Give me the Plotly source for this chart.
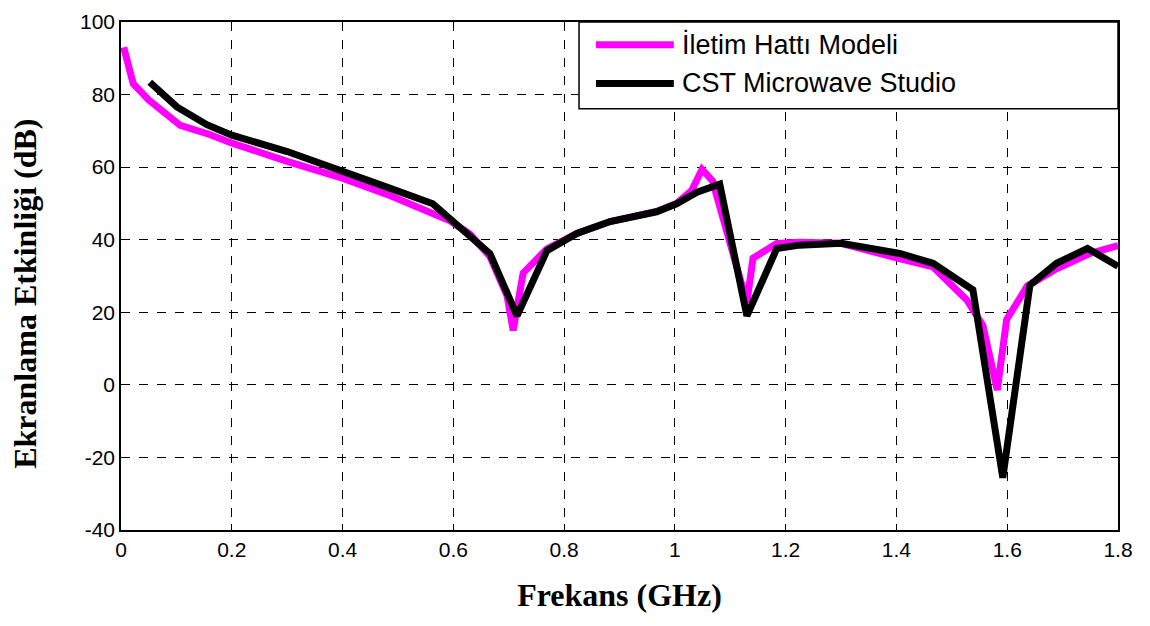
import plotly.graph_objects as go

# İletim Hattı Modeli (magenta)
tl_x = [0.005, 0.022, 0.05, 0.083, 0.107, 0.16, 0.197, 0.3, 0.395, 0.48, 0.56, 0.594, 0.63, 0.666, 0.697, 0.708, 0.726, 0.769, 0.823, 0.883, 0.967, 1.003, 1.03, 1.049, 1.068, 1.13, 1.141, 1.184, 1.225, 1.3, 1.4, 1.466, 1.527, 1.556, 1.582, 1.599, 1.636, 1.689, 1.749, 1.8]
tl_y = [93, 83, 78.5, 74.4, 71.5, 69, 66.8, 61.6, 57.2, 52.5, 47.5, 45.2, 41.5, 35.4, 24.5, 15, 30.8, 37.5, 41.7, 45, 47.8, 50, 53.5, 59.4, 56.2, 22.6, 34.9, 39, 39.3, 39, 35, 32.5, 23.4, 16.4, -1.4, 18, 27.2, 32, 36.2, 38.4]

# CST Microwave Studio (black)
cst_x = [0.052, 0.101, 0.155, 0.2, 0.3, 0.395, 0.48, 0.563, 0.6, 0.666, 0.715, 0.769, 0.823, 0.883, 0.967, 1.003, 1.04, 1.081, 1.13, 1.184, 1.225, 1.3, 1.406, 1.466, 1.538, 1.592, 1.641, 1.689, 1.745, 1.8]
cst_y = [83.4, 76.6, 71.7, 68.8, 64.3, 58.9, 54.5, 49.9, 45.2, 36.2, 19, 37, 41.7, 45, 47.7, 49.9, 53.1, 55.3, 19, 37.6, 38.5, 39, 36.2, 33.5, 26.2, -25.6, 27.5, 33.5, 37.6, 32.7]

x_ticks = [0, 0.2, 0.4, 0.6, 0.8, 1, 1.2, 1.4, 1.6, 1.8]
x_ticklabels = ["0", "0.2", "0.4", "0.6", "0.8", "1", "1.2", "1.4", "1.6", "1.8"]
y_ticks = [-40, -20, 0, 20, 40, 60, 80, 100]
y_ticklabels = ["-40", "-20", "0", "20", "40", "60", "80", "100"]

series_names = ["İletim Hattı Modeli", "CST Microwave Studio"]
series_colors = ["#FF00FF", "#000000"]

fig = go.Figure()
fig.add_trace(go.Scatter(x=tl_x, y=tl_y, mode="lines", name=series_names[0],
                         line=dict(color=series_colors[0], width=7), showlegend=False))
fig.add_trace(go.Scatter(x=cst_x, y=cst_y, mode="lines", name=series_names[1],
                         line=dict(color=series_colors[1], width=7), showlegend=False))

tick_font = dict(family="Liberation Sans Narrow, Arial Narrow, Liberation Sans, sans-serif", size=21, color="#000")
title_font = dict(family="Liberation Serif, Times New Roman, serif", size=32, color="#000")
fig.update_xaxes(range=[0, 1.8], tickvals=x_ticks, ticktext=x_ticklabels, automargin=False,
                 ticklabeloverflow="allow",
                 showgrid=True, gridcolor="#000", griddash="dash", gridwidth=1,
                 showline=True, linecolor="#000", linewidth=1.5, mirror=True,
                 ticks="inside", ticklen=6, tickcolor="#000", tickfont=tick_font,
                 zeroline=False,
                 title=dict(text="<b>Frekans (GHz)</b>", standoff=24, font=title_font))
fig.update_yaxes(range=[-40, 100], tickvals=y_ticks, ticktext=y_ticklabels, automargin=False,
                 ticklabeloverflow="allow",
                 showgrid=True, gridcolor="#000", griddash="dash", gridwidth=1,
                 showline=True, linecolor="#000", linewidth=1.5, mirror=True,
                 ticks="inside", ticklen=6, tickcolor="#000", tickfont=tick_font,
                 zeroline=False)

# y-axis title placed as annotation to sit close to the left edge
fig.add_annotation(xref="paper", yref="paper", x=-0.0963, y=0.465, text="<b>Ekranlama Etkinliği (dB)</b>",
                   textangle=-90, showarrow=False, xanchor="center", yanchor="middle", font=title_font)

# legend box (manual, to match the wide MATLAB-style legend)
lx0, lx1, ly0, ly1 = 0.4594, 1.0, 0.829, 1.0
fig.add_shape(type="rect", xref="paper", yref="paper", x0=lx0, x1=lx1, y0=ly0, y1=ly1,
              line=dict(color="#000", width=1.5), fillcolor="white", layer="above")
leg_rows = [0.955, 0.879]
for name, color, yy in zip(series_names, series_colors, leg_rows):
    fig.add_shape(type="line", xref="paper", yref="paper", x0=0.4764, x1=0.5545, y0=yy, y1=yy,
                  line=dict(color=color, width=7), layer="above")
    fig.add_annotation(xref="paper", yref="paper", x=0.5605, y=yy, text=name, showarrow=False,
                       xanchor="left", yanchor="middle",
                       font=dict(family="Liberation Sans, Arial, sans-serif", size=27, color="#000"))

fig.update_layout(width=1142, height=618, plot_bgcolor="white", paper_bgcolor="white",
                  margin=dict(l=113, r=32, t=14, b=96), showlegend=False)

fig.write_html("out.html")
